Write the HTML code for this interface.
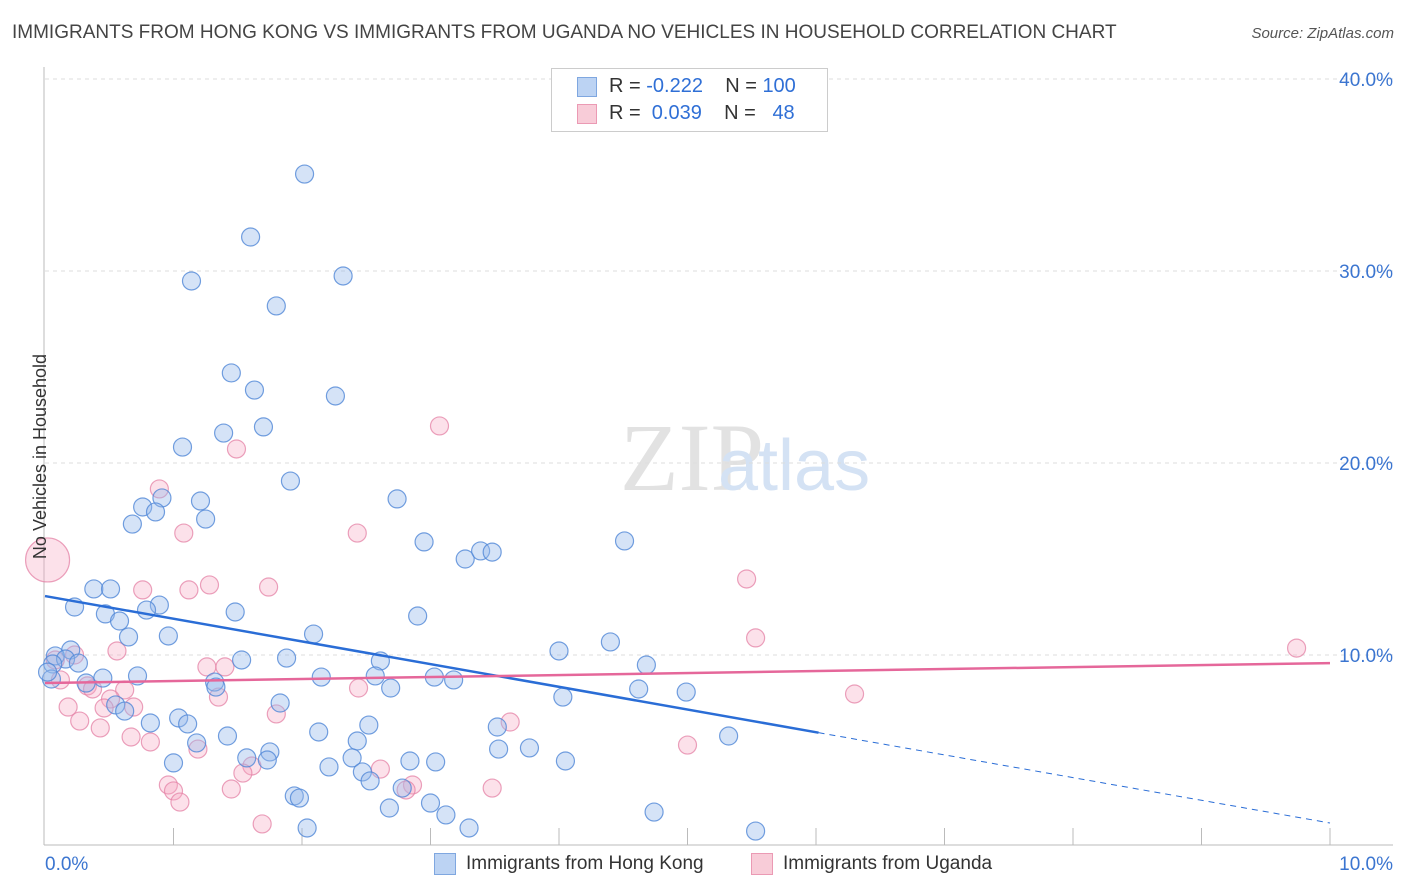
<!DOCTYPE html>
<html><head><meta charset="utf-8"><style>
body{margin:0;background:#fff;font-family:"Liberation Sans",sans-serif;}
#wrap{position:relative;width:1406px;height:892px;overflow:hidden;}
.t{position:absolute;white-space:nowrap;}
</style></head><body>
<div id="wrap">
<div class="t" style="left:12px;top:22px;font-size:19px;color:#444;">IMMIGRANTS FROM HONG KONG VS IMMIGRANTS FROM UGANDA NO VEHICLES IN HOUSEHOLD CORRELATION CHART</div>
<div class="t" style="right:12px;top:25px;font-size:15px;color:#555;font-style:italic;">Source: ZipAtlas.com</div>
<svg id="svg" width="1406" height="892" style="position:absolute;left:0;top:0">
<text x="620" y="490" font-size="96" font-family="Liberation Serif" fill="#e2e2e2">ZIP</text>
<text x="718" y="490" font-size="72" font-family="Liberation Sans" fill="#d4e2f4">atlas</text>
<g id="grid"></g><g id="pts"></g><g id="lines"></g>
</svg>
<div style="position:absolute;left:551px;top:68px;width:275px;height:62px;border:1px solid #ccc;background:#fff;font-size:20px;">
 <div style="position:absolute;left:25px;top:8px;width:18px;height:18px;background:#bcd3f3;border:1px solid #7fa7e0;"></div>
 <div class="t" style="left:57px;top:6px;color:#333;">R = <span style="color:#2f6fd6">-0.222</span>&nbsp;&nbsp;&nbsp; N = <span style="color:#2f6fd6">100</span></div>
 <div style="position:absolute;left:25px;top:35px;width:18px;height:18px;background:#f8ccd8;border:1px solid #eb9ab4;"></div>
 <div class="t" style="left:57px;top:33px;color:#333;">R = &nbsp;<span style="color:#2f6fd6">0.039</span>&nbsp;&nbsp;&nbsp; N = &nbsp;&nbsp;<span style="color:#2f6fd6">48</span></div>
</div>
<div class="t" style="left:-62px;top:446px;font-size:18px;color:#333;transform:rotate(-90deg);">No Vehicles in Household</div>
<div style="position:absolute;left:434px;top:853px;width:20px;height:20px;background:#bcd3f3;border:1px solid #7fa7e0;"></div>
<div class="t" style="left:466px;top:853px;font-size:19px;color:#333;">Immigrants from Hong Kong</div>
<div style="position:absolute;left:751px;top:853px;width:20px;height:20px;background:#f8ccd8;border:1px solid #eb9ab4;"></div>
<div class="t" style="left:783px;top:853px;font-size:19px;color:#333;">Immigrants from Uganda</div>
</div>
<script>
const yTicks=[10,20,30,40];
const yTickLabels=["10.0%","20.0%","30.0%","40.0%"];
const xTickLabels=["0.0%","10.0%"];
const hkX=[2.02,1.60,1.14,2.32,1.80,1.45,1.63,2.26,1.39,1.70,1.07,1.91,2.74,0.91,1.21,0.76,0.86,0.68,1.25,2.95,4.51,3.27,3.39,3.48,0.38,0.51,0.23,0.89,0.79,1.48,0.47,0.58,2.90,0.65,0.96,2.09,4.40,4.00,0.20,0.08,0.16,0.26,0.06,1.53,1.88,2.61,4.68,0.72,0.45,0.32,0.05,0.02,2.15,2.57,3.03,3.18,1.32,1.33,2.69,4.62,4.99,4.03,1.83,0.55,0.62,0.82,1.04,1.11,3.52,1.42,2.13,2.52,2.43,5.32,1.18,3.53,3.77,1.75,1.57,1.73,1.00,2.39,2.21,2.84,3.04,4.05,2.47,2.53,2.78,1.94,1.98,2.68,3.00,3.12,4.74,2.04,3.30,5.53];
const hkY=[35.05,31.77,29.48,29.74,28.18,24.69,23.80,23.49,21.56,21.88,20.83,19.06,18.13,18.18,18.02,17.71,17.45,16.82,17.08,15.89,15.94,15.00,15.42,15.36,13.44,13.44,12.50,12.60,12.34,12.24,12.14,11.77,12.03,10.94,10.99,11.09,10.68,10.21,10.26,9.95,9.79,9.58,9.53,9.74,9.84,9.69,9.48,8.91,8.80,8.54,8.75,9.11,8.85,8.91,8.85,8.70,8.59,8.33,8.28,8.23,8.07,7.81,7.50,7.40,7.08,6.46,6.72,6.41,6.25,5.78,5.99,6.35,5.52,5.78,5.42,5.10,5.16,4.95,4.64,4.53,4.38,4.64,4.17,4.48,4.43,4.48,3.91,3.44,3.07,2.66,2.55,2.03,2.29,1.67,1.82,0.99,0.99,0.83];
const ugX=[0.02,3.07,1.49,0.89,1.08,2.43,1.28,0.76,1.12,1.74,5.46,5.53,9.74,0.56,0.08,0.23,1.26,1.40,0.33,0.37,0.62,0.12,2.44,1.35,6.30,0.51,0.18,0.46,0.69,1.80,0.27,0.43,3.62,0.67,0.82,1.19,5.00,1.61,1.54,2.61,2.86,2.81,0.96,1.00,1.05,3.48,1.45,1.69];
const ugY=[14.95,21.93,20.73,18.65,16.35,16.35,13.65,13.39,13.39,13.54,13.96,10.89,10.36,10.21,9.74,10.00,9.38,9.38,8.39,8.23,8.18,8.70,8.28,7.81,7.97,7.71,7.29,7.24,7.29,6.93,6.56,6.20,6.51,5.73,5.47,5.10,5.31,4.22,3.85,4.06,3.23,2.97,3.23,2.92,2.34,3.07,3.02,1.20];
const hkLine=[13.07,1.25]; // trend value at x=0 and x=10
const ugLine=[8.54,9.58];
const X0=45,XS=128.5,Y0=847,YS=19.2;
const sx=v=>X0+v*XS, sy=v=>Y0-v*YS;
const NS="http://www.w3.org/2000/svg";
function mk(tag,attrs,parent){const e=document.createElementNS(NS,tag);for(const k in attrs)e.setAttribute(k,attrs[k]);parent.appendChild(e);return e;}
const grid=document.getElementById('grid'),pts=document.getElementById('pts'),lines=document.getElementById('lines'),svg=document.getElementById('svg');
yTicks.forEach((t,i)=>{
 const l=mk('line',{x1:45,x2:1393,y1:sy(t),y2:sy(t),stroke:'#ddd','stroke-dasharray':'4,4'},grid);
 
 
 const tx=mk('text',{x:1393,y:sy(t)+7,'text-anchor':'end','font-size':19,fill:'#3b75d0'},grid);
 tx.textContent=yTickLabels[i];
 
 
});
const ax=mk('line',{x1:44,x2:44,y1:67,y2:845,stroke:'#bbb'},grid);


const bx=mk('line',{x1:44,x2:1393,y1:845,y2:845,stroke:'#bbb'},grid);


for(let i=1;i<=10;i++){
 const tk=mk('line',{x1:sx(i),x2:sx(i),y1:828,y2:845,stroke:'#bbb'},grid);
 
 
}
[[0,'start',45],[10,'end',1393]].forEach((d,i)=>{
 const tx=mk('text',{x:d[2],y:870,'text-anchor':d[1],'font-size':19,fill:'#3b75d0'},grid);
 tx.textContent=xTickLabels[i];
 
 
});
ugX.forEach((x,i)=>{
 const c=mk('circle',{cx:sx(x),cy:sy(ugY[i]),r:i===0?22:9,fill:'rgba(245,170,195,0.35)',stroke:'rgba(228,130,165,0.75)','stroke-width':1.2},pts);
 
 
});
hkX.forEach((x,i)=>{
 const c=mk('circle',{cx:sx(x),cy:sy(hkY[i]),r:9,fill:'rgba(150,185,235,0.4)',stroke:'rgba(80,135,215,0.8)','stroke-width':1.2},pts);
 
 
});
const hv=x=>hkLine[0]+(hkLine[1]-hkLine[0])*x/10;
const l1=mk('line',{x1:sx(0),y1:sy(hv(0)),x2:sx(6.02),y2:sy(hv(6.02)),stroke:'#2a6dd6','stroke-width':2.5},lines);


const l2=mk('line',{x1:sx(6.02),y1:sy(hv(6.02)),x2:sx(10),y2:sy(hv(10)),stroke:'#2a6dd6','stroke-width':1,'stroke-dasharray':'6,5'},lines);


const l3=mk('line',{x1:sx(0),y1:sy(ugLine[0]),x2:sx(10),y2:sy(ugLine[1]),stroke:'#e5679a','stroke-width':2.5},lines);


</script>
</body></html>
